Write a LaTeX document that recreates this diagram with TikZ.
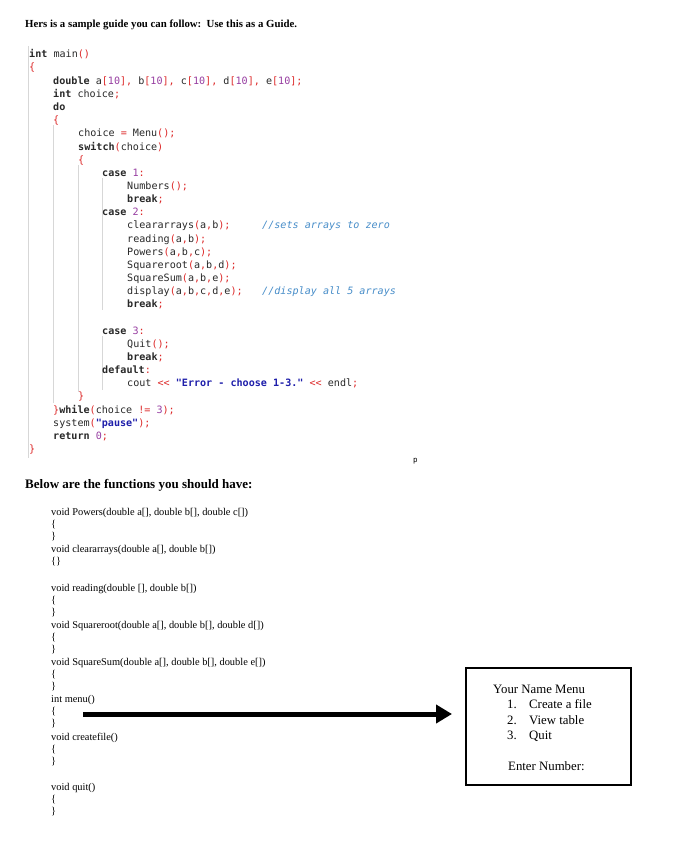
\documentclass[tikz,border=0pt]{standalone}
\usepackage{fontspec}
\setmainfont{Liberation Serif}
\newfontfamily\codefont{DejaVu Sans Mono}
\usetikzlibrary{arrows.meta}
\definecolor{kwc}{RGB}{40,40,40}
\definecolor{pnc}{RGB}{220,40,40}
\definecolor{nmc}{RGB}{150,60,160}
\definecolor{stc}{RGB}{30,30,170}
\definecolor{cmc}{RGB}{70,140,200}
\definecolor{gdc}{RGB}{215,215,215}
\newcommand\ck[1]{\textbf{#1}}
\newcommand\cp[1]{\textcolor{pnc}{#1}}
\newcommand\cn[1]{\textcolor{nmc}{#1}}
\newcommand\cs[1]{\textcolor{stc}{\textbf{#1}}}
\newcommand\cc[1]{\textcolor{cmc}{\textit{#1}}}
\tikzset{
 code/.style={anchor=base west,inner sep=0,font=\codefont\fontsize{10.1}{11}\selectfont,text=kwc},
 cmt/.style={anchor=base west,inner sep=0,font=\codefont\fontsize{10.1}{11}\selectfont},
 fn/.style={anchor=base west,inner sep=0,font=\fontsize{10.4}{11}\selectfont},
 guide/.style={draw=gdc,line width=0.8pt},
 mtxt/.style={anchor=base west,inner sep=0,font=\fontsize{12.8}{14}\selectfont}
}
\begin{document}
\begin{tikzpicture}[x=1pt,y=-1pt]
\useasboundingbox (0,0) rectangle (697,852);
\node[anchor=base west,inner sep=0,font=\bfseries\fontsize{10.8}{12}\selectfont] (title) at (25,27) {Hers is a sample guide you can follow:\ \ Use this as a Guide.};
% guides
\draw[guide] (28,46) -- (28,458);
\draw[guide] (53,125) -- (53,403);
\draw[guide] (78,165) -- (78,392);
\draw[guide] (102,178) -- (102,310);
\draw[guide] (102,336) -- (102,390);
% code
\node[code] (l1) at (29,57) {\ck{int} main\cp{()}};
\node[code] (l2) at (29,70) {\cp{\{}};
\node[code] (l3) at (53,84) {\ck{double} a\cp{[}\cn{10}\cp{]}\cp{,} b\cp{[}\cn{10}\cp{],} c\cp{[}\cn{10}\cp{],} d\cp{[}\cn{10}\cp{],} e\cp{[}\cn{10}\cp{];}};
\node[code] (l4) at (53,97) {\ck{int} choice\cp{;}};
\node[code] (l5) at (53,110) {\ck{do}};
\node[code] (l6) at (53,123) {\cp{\{}};
\node[code] (l7) at (78,136) {choice \cp{=} Menu\cp{();}};
\node[code] (l8) at (78,150) {\ck{switch}\cp{(}choice\cp{)}};
\node[code] (l9) at (78,163) {\cp{\{}};
\node[code] (l10) at (102,176) {\ck{case} \cn{1}\cp{:}};
\node[code] (l11) at (127,189) {Numbers\cp{();}};
\node[code] (l12) at (127,202) {\ck{break}\cp{;}};
\node[code] (l13) at (102,215) {\ck{case} \cn{2}\cp{:}};
\node[code] (l14) at (127,228) {cleararrays\cp{(}a\cp{,}b\cp{);}};
\node[cmt] (c1) at (262,228) {\cc{//sets arrays to zero}};
\node[code] (l15) at (127,242) {reading\cp{(}a\cp{,}b\cp{);}};
\node[code] (l16) at (127,255) {Powers\cp{(}a\cp{,}b\cp{,}c\cp{);}};
\node[code] (l17) at (127,268) {Squareroot\cp{(}a\cp{,}b\cp{,}d\cp{);}};
\node[code] (l18) at (127,281) {SquareSum\cp{(}a\cp{,}b\cp{,}e\cp{);}};
\node[code] (l19) at (127,294) {display\cp{(}a\cp{,}b\cp{,}c\cp{,}d\cp{,}e\cp{);}};
\node[cmt] (c2) at (262,294) {\cc{//display all 5 arrays}};
\node[code] (l20) at (127,307) {\ck{break}\cp{;}};
\node[code] (l21) at (102,334) {\ck{case} \cn{3}\cp{:}};
\node[code] (l22) at (127,347) {Quit\cp{();}};
\node[code] (l23) at (127,360) {\ck{break}\cp{;}};
\node[code] (l24) at (102,373) {\ck{default}\cp{:}};
\node[code] (l25) at (127,386) {cout \cp{<<} \cs{"Error - choose 1-3."} \cp{<<} endl\cp{;}};
\node[code] (l26) at (78,399) {\cp{\}}};
\node[code] (l27) at (53,413) {\cp{\}}\ck{while}\cp{(}choice \cp{!=} \cn{3}\cp{);}};
\node[code] (l28) at (53,426) {system\cp{(}\cs{"pause"}\cp{);}};
\node[code] (l29) at (53,439) {\ck{return} \cn{0}\cp{;}};
\node[code] (l30) at (29,452) {\cp{\}}};
\node[anchor=base west,inner sep=0,font=\codefont\fontsize{7.5}{8}\selectfont] (p) at (413,462) {p};
% functions
\node[anchor=base west,inner sep=0,font=\bfseries\fontsize{13}{15}\selectfont] (head) at (25,488) {Below are the functions you should have:};
\node[fn] (f1) at (51,515) {void Powers(double a[], double b[], double c[])};
\node[fn] (f2) at (51,527) {\{};
\node[fn] (f3) at (51,539) {\}};
\node[fn] (f4) at (51,552) {void cleararrays(double a[], double b[])};
\node[fn] (f5) at (51,564) {\{\}};
\node[fn] (f6) at (51,591) {void reading(double [], double b[])};
\node[fn] (f7) at (51,603) {\{};
\node[fn] (f8) at (51,615) {\}};
\node[fn] (f9) at (51,628) {void Squareroot(double a[], double b[], double d[])};
\node[fn] (f10) at (51,640) {\{};
\node[fn] (f11) at (51,652) {\}};
\node[fn] (f12) at (51,665) {void SquareSum(double a[], double b[], double e[])};
\node[fn] (f13) at (51,677) {\{};
\node[fn] (f14) at (51,689) {\}};
\node[fn] (f15) at (51,702) {int menu()};
\node[fn] (f16) at (51,714) {\{};
\node[fn] (f17) at (51,726) {\}};
\node[fn] (f18) at (51,740) {void createfile()};
\node[fn] (f19) at (51,752) {\{};
\node[fn] (f20) at (51,764) {\}};
\node[fn] (f21) at (51,790) {void quit()};
\node[fn] (f22) at (51,802) {\{};
\node[fn] (f23) at (51,814) {\}};
% menu box
\node[draw,line width=2pt,minimum width=165pt,minimum height=117pt,anchor=north west,inner sep=0] (box) at (465,667) {};
\node[mtxt] (m0) at (493,693) {Your Name Menu};
\node[mtxt,anchor=base east] (n1) at (517,708) {1.};
\node[mtxt] (m1) at (529,708) {Create a file};
\node[mtxt,anchor=base east] (n2) at (517,724) {2.};
\node[mtxt] (m2) at (529,724) {View table};
\node[mtxt,anchor=base east] (n3) at (517,739) {3.};
\node[mtxt] (m3) at (529,739) {Quit};
\node[mtxt] (m4) at (508,770) {Enter Number:};
\coordinate (astart) at (83,714);
\coordinate (aend) at (452,714);
\draw[line width=5pt,-{Triangle[length=16pt,width=18pt]}] (astart) -- (aend);
\end{tikzpicture}
\end{document}
